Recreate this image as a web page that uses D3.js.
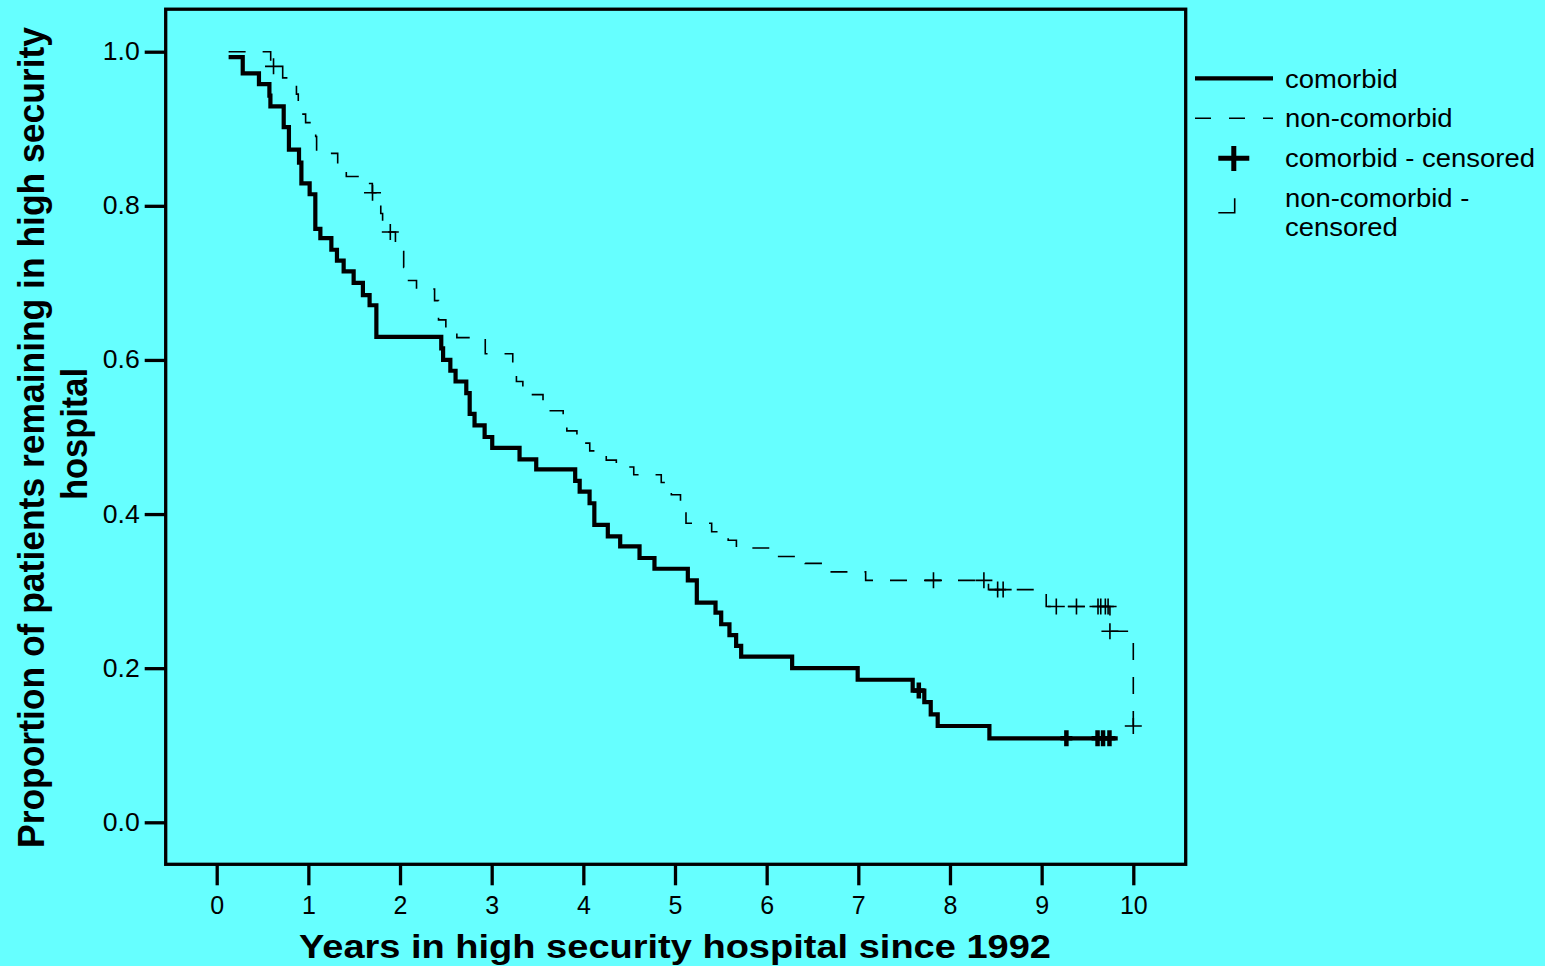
<!DOCTYPE html>
<html>
<head>
<meta charset="utf-8">
<script src="https://cdnjs.cloudflare.com/ajax/libs/d3/7.8.5/d3.min.js"></script>
<style>
html, body { margin: 0; padding: 0; background: #66ffff; }
svg { display: block; font-family: "Liberation Sans", Arial, sans-serif; }
</style>
</head>
<body>
<div id="chart"></div>
<script>
// Kaplan-Meier steps: event times (years) and survival after each drop
var comorbidStart = [0.13, 0.993];
var comorbidTimes = [0.284, 0.461, 0.575, 0.586, 0.731, 0.788, 0.898, 0.924, 1.014, 1.076,
	1.131, 1.251, 1.312, 1.385, 1.494, 1.595, 1.668, 1.742, 2.45, 2.47,
	2.549, 2.606, 2.723, 2.76, 2.813, 2.923, 3.006, 3.304, 3.486, 3.911,
	3.96, 4.068, 4.12, 4.267, 4.402, 4.613, 4.776, 5.14, 5.238, 5.442,
	5.504, 5.594, 5.667, 5.722, 6.278, 6.993, 7.593, 7.72, 7.79, 7.866, 8.43];
var comorbidSurv = [0.972, 0.958, 0.943, 0.929, 0.902, 0.873, 0.856, 0.829, 0.815, 0.770,
	0.758, 0.743, 0.729, 0.715, 0.700, 0.684, 0.671, 0.630, 0.615, 0.600,
	0.586, 0.572, 0.557, 0.530, 0.515, 0.500, 0.486, 0.471, 0.458, 0.443,
	0.429, 0.414, 0.386, 0.371, 0.358, 0.343, 0.329, 0.314, 0.285, 0.272,
	0.257, 0.243, 0.229, 0.215, 0.200, 0.185, 0.171, 0.156, 0.140, 0.125, 0.109];
var comorbidEnd = 9.83;
var comorbidCensored = [7.66, 9.27, 9.61, 9.67, 9.74];

var nonStart = [0.13, 1.0];
var nonTimes = [0.589, 0.72, 0.87, 0.89, 0.97, 1.08, 1.09, 1.32, 1.414, 1.58,
	1.698, 1.79, 1.81, 1.95, 2.04, 2.075, 2.18, 2.377, 2.42, 2.5,
	2.62, 2.93, 3.23, 3.27, 3.34, 3.56, 3.78, 3.82, 3.93, 4.07,
	4.25, 4.36, 4.55, 4.85, 4.96, 5.06, 5.12, 5.4, 5.58, 5.67,
	6.02, 6.42, 6.63, 7.08, 8.42, 9.05, 9.745, 10.0];
var nonSurv = [0.981, 0.966, 0.945, 0.919, 0.908, 0.89, 0.868, 0.853, 0.838, 0.829,
	0.817, 0.79, 0.766, 0.744, 0.72, 0.703, 0.692, 0.677, 0.652, 0.642,
	0.629, 0.608, 0.588, 0.572, 0.555, 0.534, 0.52, 0.508, 0.492, 0.482,
	0.470, 0.461, 0.451, 0.441, 0.425, 0.41, 0.388, 0.377, 0.366, 0.356,
	0.345, 0.336, 0.325, 0.314, 0.302, 0.280, 0.248, 0.125];
var nonEnd = 10.0;
var nonCensored = [0.62, 1.70, 1.894, 7.82, 8.37, 8.52, 8.58, 9.16, 9.38, 9.615, 9.645, 9.695, 9.725, 9.745, 10.0];

var xTickValues = [0, 1, 2, 3, 4, 5, 6, 7, 8, 9, 10];
var yTickValues = [0.0, 0.2, 0.4, 0.6, 0.8, 1.0];

var legendLabels = ['comorbid', 'non-comorbid', 'comorbid - censored', ['non-comorbid -', 'censored']];

var width = 1545;
var height = 966;

var frame = { left: 165.7, right: 1185.7, top: 9.2, bottom: 864.3 };

var svg = d3.select("#chart")
	.append("svg")
	.attr("width", width)
	.attr("height", height);

svg.append('rect')
	.attr('width', width)
	.attr('height', height)
	.attr('fill', '#66ffff');

var x = d3.scaleLinear().domain([0, 10]).range([216.7, 1133.3]);
var y = d3.scaleLinear().domain([0, 1]).range([822.3, 51.7]);

// frame
svg.append('rect')
	.attr('x', frame.left)
	.attr('y', frame.top)
	.attr('width', frame.right - frame.left)
	.attr('height', frame.bottom - frame.top)
	.attr('fill', 'none')
	.attr('stroke', '#000')
	.attr('stroke-width', 3.3);

// axes
var yAxis = svg.append('g')
	.attr('transform', 'translate(' + frame.left + ',0)')
	.call(d3.axisLeft(y).tickValues(yTickValues).tickFormat(d3.format('.1f')).tickSize(21).tickPadding(5));

var xAxis = svg.append('g')
	.attr('transform', 'translate(0,' + frame.bottom + ')')
	.call(d3.axisBottom(x).tickValues(xTickValues).tickFormat(d3.format('d')).tickSize(21).tickPadding(11));

[yAxis, xAxis].forEach(function(a) {
	a.select('.domain').remove();
	a.selectAll('line').attr('stroke', '#000').attr('stroke-width', 3.3);
	a.selectAll('text')
		.attr('fill', '#000')
		.style('font-family', '"Liberation Sans", Arial, sans-serif')
		.style('font-size', '25px');
});
yAxis.selectAll('text').attr('textLength', 37).attr('lengthAdjust', 'spacingAndGlyphs');

// axis titles
svg.append('text')
	.attr('x', 675)
	.attr('y', 958)
	.attr('text-anchor', 'middle')
	.attr('textLength', 752)
	.attr('lengthAdjust', 'spacingAndGlyphs')
	.style('font-size', '33px')
	.style('font-weight', 'bold')
	.text('Years in high security hospital since 1992');

svg.append('text')
	.attr('transform', 'translate(44,437.5) rotate(-90)')
	.attr('text-anchor', 'middle')
	.attr('textLength', 821)
	.attr('lengthAdjust', 'spacingAndGlyphs')
	.style('font-size', '36px')
	.style('font-weight', 'bold')
	.text('Proportion of patients remaining in high security');

svg.append('text')
	.attr('transform', 'translate(87,434) rotate(-90)')
	.attr('text-anchor', 'middle')
	.attr('textLength', 132)
	.attr('lengthAdjust', 'spacingAndGlyphs')
	.style('font-size', '36px')
	.style('font-weight', 'bold')
	.text('hospital');

// curves
function stepData(start, times, surv, end) {
	var pts = [start];
	times.forEach(function(t, i) { pts.push([t, surv[i]]); });
	pts.push([end, surv[surv.length - 1]]);
	return pts;
}

function survAt(start, times, surv, t) {
	var s = start[1];
	times.forEach(function(tt, i) { if (t >= tt) s = surv[i]; });
	return s;
}

var line = d3.line()
	.x(function(d) { return x(d[0]); })
	.y(function(d) { return y(d[1]); })
	.curve(d3.curveStepAfter);

svg.append('path')
	.attr('d', line(stepData(nonStart, nonTimes, nonSurv, nonEnd)))
	.attr('fill', 'none')
	.attr('stroke', '#000')
	.attr('stroke-width', 1.6)
	.attr('stroke-dasharray', '17,17');

svg.append('path')
	.attr('d', line(stepData(comorbidStart, comorbidTimes, comorbidSurv, comorbidEnd)))
	.attr('fill', 'none')
	.attr('stroke', '#000')
	.attr('stroke-width', 4.2);

// censored marks
svg.append('g').selectAll('path')
	.data(nonCensored)
	.enter()
	.append('path')
	.attr('transform', function(d) { return 'translate(' + x(d) + ',' + y(survAt(nonStart, nonTimes, nonSurv, d)) + ')'; })
	.attr('d', 'M-8.5,0H8.5M0,-8V8')
	.attr('fill', 'none')
	.attr('stroke', '#000')
	.attr('stroke-width', 1.6);

svg.append('g').selectAll('path')
	.data(comorbidCensored)
	.enter()
	.append('path')
	.attr('transform', function(d) { return 'translate(' + x(d) + ',' + y(survAt(comorbidStart, comorbidTimes, comorbidSurv, d)) + ')'; })
	.attr('d', 'M-6,0H6M0,-8V8')
	.attr('fill', 'none')
	.attr('stroke', '#000')
	.attr('stroke-width', 4.5);

// legend
var legend = svg.append('g');

legend.append('line')
	.attr('x1', 1195).attr('x2', 1273)
	.attr('y1', 78.3).attr('y2', 78.3)
	.attr('stroke', '#000').attr('stroke-width', 4.2);

legend.append('line')
	.attr('x1', 1195).attr('x2', 1273)
	.attr('y1', 118.3).attr('y2', 118.3)
	.attr('stroke', '#000').attr('stroke-width', 1.6)
	.attr('stroke-dasharray', '16,18');

legend.append('path')
	.attr('d', 'M1218.3,158.3H1249.3M1233.8,146V171')
	.attr('stroke', '#000').attr('stroke-width', 5).attr('fill', 'none');

legend.append('path')
	.attr('d', 'M1218.3,212.7H1234.7V198.3')
	.attr('stroke', '#000').attr('stroke-width', 1.6).attr('fill', 'none');

function legendText(lbl, yy) {
	var t = legend.append('text')
		.attr('x', 1285)
		.attr('y', yy)
		.style('font-size', '25.5px')
		.attr('fill', '#000')
		.text(lbl);
	// the original figure is slightly stretched horizontally
	var w = t.node().getComputedTextLength();
	t.attr('textLength', w * 1.075).attr('lengthAdjust', 'spacingAndGlyphs');
}

var legendY = [87.5, 127, 167];
legendLabels.forEach(function(lbl, i) {
	if (typeof lbl === 'string') {
		legendText(lbl, legendY[i]);
	} else {
		legendText(lbl[0], 207);
		legendText(lbl[1], 236);
	}
});
</script>
</body>
</html>
